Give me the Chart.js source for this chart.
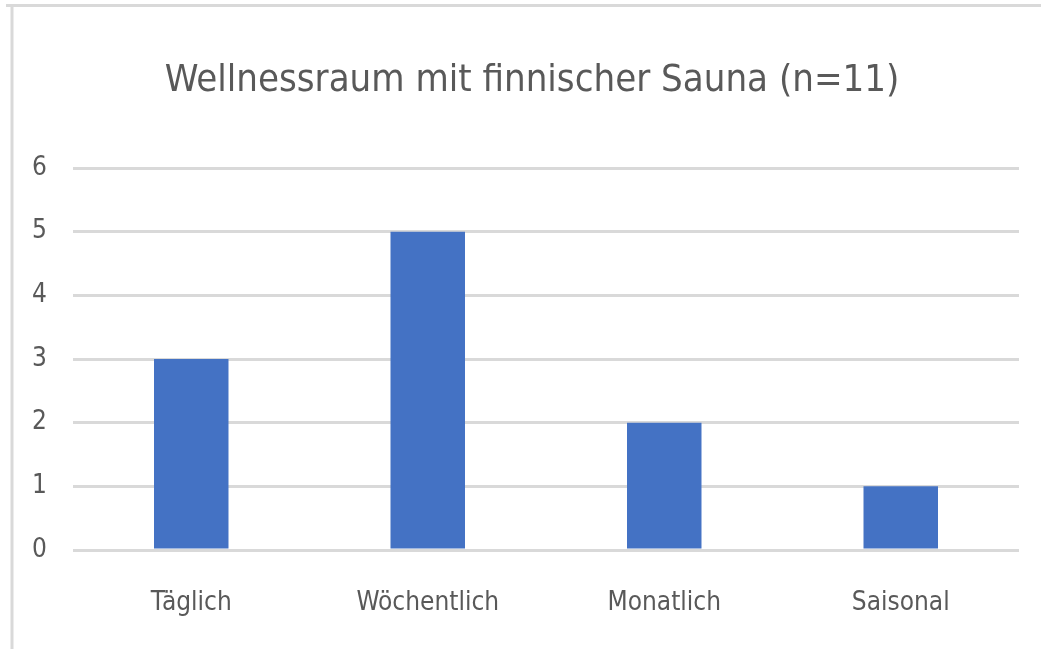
<!DOCTYPE html>
<html>
<head>
<meta charset="utf-8">
<script src="https://cdn.jsdelivr.net/npm/chart.js@4"></script>
<style>
  html, body { margin: 0; padding: 0; background: #ffffff; }
  #wrap { position: relative; width: 1041px; height: 649px; }
  canvas { display: block; }
</style>
</head>
<body>
<div id="wrap"><canvas id="c" width="1041" height="649"></canvas></div>
<script>
const chartTitle = "Wellnessraum mit finnischer Sauna (n=11)";
const categories = ["Täglich", "Wöchentlich", "Monatlich", "Saisonal"];
const values = [3, 5, 2, 1];
const yTicks = [0, 1, 2, 3, 4, 5, 6];

const FONT = '"Liberation Sans Narrow", "DejaVu Sans Condensed", "Liberation Sans", sans-serif';
const TXT = '#595959';
const GRID = '#d9d9d9';

const framePlugin = {
  id: 'frame',
  beforeDraw(chart) {
    const ctx = chart.ctx;
    ctx.save();
    ctx.strokeStyle = GRID;
    ctx.lineWidth = 3;
    ctx.beginPath();
    ctx.moveTo(6, 5.5);
    ctx.lineTo(1041, 5.5);
    ctx.moveTo(12, 5);
    ctx.lineTo(12, 649);
    ctx.stroke();
    // chart title, centred on the chart frame
    ctx.fillStyle = TXT;
    ctx.font = '38px ' + FONT;
    ctx.textAlign = 'center';
    ctx.textBaseline = 'middle';
    ctx.fillText(chartTitle, 532, 81);
    ctx.restore();
  }
};

new Chart(document.getElementById('c'), {
  type: 'bar',
  data: {
    labels: categories,
    datasets: [{
      data: values,
      backgroundColor: '#4472C4',
      borderWidth: 0,
      barPercentage: 0.315,
      categoryPercentage: 1.0
    }]
  },
  options: {
    responsive: false,
    animation: false,
    devicePixelRatio: 1,
    layout: { autoPadding: false, padding: { left: 0, right: 22, top: 168, bottom: 0 } },
    plugins: {
      legend: { display: false },
      tooltip: { enabled: false },
      title: { display: false }
    },
    scales: {
      x: {
        grid: { display: false, drawTicks: false },
        border: { display: false },
        ticks: { color: TXT, font: { family: FONT, size: 26 }, padding: 38, maxRotation: 0 },
        afterFit(scale) { scale.height = 99; }
      },
      y: {
        min: 0,
        max: 6,
        afterBuildTicks(scale) { scale.ticks = yTicks.map(v => ({ value: v })); },
        grid: { color: GRID, lineWidth: 3, drawTicks: false, tickLength: 0 },
        border: { display: false },
        ticks: { color: TXT, font: { family: FONT, size: 26 }, padding: 26 },
        afterFit(scale) { scale.width = 73; }
      }
    }
  },
  plugins: [framePlugin]
});
</script>
</body>
</html>
